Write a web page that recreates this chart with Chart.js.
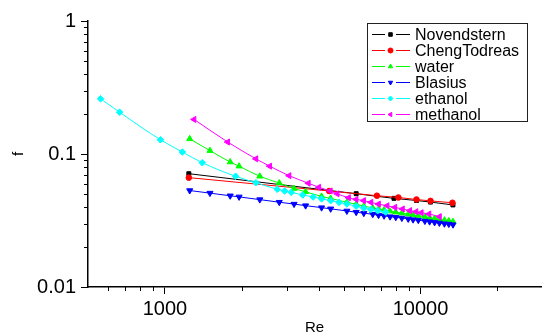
<!DOCTYPE html>
<html>
<head>
<meta charset="utf-8">
<script src="https://cdn.jsdelivr.net/npm/chart.js@4.4.1/dist/chart.umd.min.js"></script>
<style>
  html, body { margin: 0; padding: 0; background: #fff; }
  #wrap { width: 546px; height: 333px; }
</style>
</head>
<body>
<div id="wrap"><canvas id="chart" width="546" height="333"></canvas></div>
<script>
// series names (legend order)
const seriesNames = ['Novendstern', 'ChengTodreas', 'water', 'Blasius', 'ethanol', 'methanol'];

// Novendstern
const reNovendstern = [1240, 5600, 7870, 9640, 10940, 13390];
const fNovendstern = [0.0711, 0.0503, 0.0464, 0.0447, 0.0435, 0.0414];

// ChengTodreas
const reCheng = [1240, 4390, 6750, 8190, 9640, 10940, 13330];
const fCheng = [0.0664, 0.0527, 0.0486, 0.0471, 0.0455, 0.0444, 0.0430];

// water + Blasius share the same Re points
const reWater = [1250, 1500, 1800, 1950, 2350, 2800, 3200, 3550, 4100, 4450, 5150, 5600, 6000, 6500,
                 6850, 7200, 7600, 8000, 8450, 8950, 9350, 9800, 10400, 10850, 11350, 11850, 12400, 12900, 13400];
const fWater = [0.130, 0.106, 0.087, 0.081, 0.068, 0.0605, 0.055, 0.052, 0.048, 0.0463, 0.0434, 0.0419, 0.0405, 0.0393,
                0.0386, 0.0379, 0.0372, 0.0365, 0.0359, 0.0353, 0.0348, 0.0344, 0.0337, 0.0332, 0.0327, 0.0322, 0.0318, 0.0314, 0.0310];
const fBlasius = [0.0531, 0.0508, 0.0485, 0.0476, 0.0454, 0.0434, 0.0420, 0.0409, 0.0395, 0.0387, 0.0373, 0.0365, 0.0359, 0.0352,
                  0.0347, 0.0343, 0.0338, 0.0334, 0.0330, 0.0325, 0.0321, 0.0318, 0.0313, 0.0310, 0.0306, 0.0303, 0.0299, 0.0297, 0.0294];

// ethanol
const reEthanol = [560, 665, 960, 1170, 1400, 1890, 2270, 2750, 2940, 3120, 3460, 3800, 4100, 4450, 4800, 5150, 5600, 6000, 6400, 6800, 7300];
const fEthanol = [0.26, 0.206, 0.128, 0.1035, 0.086, 0.068, 0.0608, 0.0543, 0.0527, 0.0515, 0.0492, 0.0475, 0.046, 0.0446,
                  0.0433, 0.0421, 0.0405, 0.0392, 0.0383, 0.0375, 0.0366];

// methanol
const reMethanol = [1300, 1760, 2270, 2570, 3060, 3640, 4000, 4440, 4720, 5230, 5600, 5990, 6400, 6850, 7400, 7940, 8500, 9080, 9600, 10070, 10790, 11860];
const fMethanol = [0.182, 0.123, 0.092, 0.081, 0.0687, 0.0603, 0.0562, 0.0527, 0.0502, 0.0469, 0.0456, 0.0446, 0.0433, 0.0420,
                   0.0408, 0.0397, 0.0386, 0.0375, 0.0368, 0.0362, 0.0354, 0.0338];

// axis ticks
const xMajorTicks = [1000, 10000];
const xMinorTicks = [600, 700, 800, 900, 2000, 3000, 4000, 5000, 6000, 7000, 8000, 9000, 20000];
const yMajorTicks = [0.01, 0.1, 1];
const yMinorTicks = [0.02, 0.03, 0.04, 0.05, 0.06, 0.07, 0.08, 0.09, 0.2, 0.3, 0.4, 0.5, 0.6, 0.7, 0.8, 0.9];

const FONT = '"Liberation Sans", Arial, sans-serif';

function toPoints(xs, ys) {
    return xs.map((x, i) => ({ x: x, y: ys[i] }));
}

function makeSeries(name, xs, ys, color, style, rotation, radius) {
    return {
        label: name,
        data: toPoints(xs, ys),
        showLine: true,
        borderColor: color,
        backgroundColor: color,
        borderWidth: 1,
        pointStyle: style,
        rotation: rotation,
        pointRadius: radius,
        pointBorderWidth: 1,
        pointBorderColor: color,
        pointBackgroundColor: color,
        cubicInterpolationMode: 'monotone'
    };
}

const datasets = [
    makeSeries(seriesNames[0], reNovendstern, fNovendstern, '#000000', 'rect', 0, 2.8),
    makeSeries(seriesNames[1], reCheng, fCheng, '#ff0000', 'circle', 0, 2.8),
    makeSeries(seriesNames[2], reWater, fWater, '#00ff00', 'triangle', 0, 3.5),
    makeSeries(seriesNames[3], reWater, fBlasius, '#0000ff', 'triangle', 180, 3.5),
    makeSeries(seriesNames[4], reEthanol, fEthanol, '#00ffff', 'rectRot', 0, 3.3),
    makeSeries(seriesNames[5], reMethanol, fMethanol, '#ff00ff', 'triangle', 270, 3.5)
];
// later series drawn on top
datasets.forEach((d, i) => { d.order = datasets.length - 1 - i; });

// short outward minor ticks
const minorTickPlugin = {
    id: 'minorTicks',
    afterDraw(chart) {
        const ctx = chart.ctx;
        const xs = chart.scales.x, ys = chart.scales.y;
        const area = chart.chartArea;
        ctx.save();
        ctx.strokeStyle = '#000';
        ctx.lineWidth = 1;
        ctx.beginPath();
        xMinorTicks.forEach(v => {
            const px = Math.round(xs.getPixelForValue(v)) + 0.5;
            if (px < area.left || px > area.right) return;
            ctx.moveTo(px, area.bottom);
            ctx.lineTo(px, area.bottom + 4);
        });
        yMinorTicks.forEach(v => {
            const py = Math.round(ys.getPixelForValue(v)) + 0.5;
            ctx.moveTo(area.left - 4, py);
            ctx.lineTo(area.left, py);
        });
        ctx.stroke();
        ctx.restore();
    }
};

// boxed legend inside the plot, line - marker - line samples
const boxLegendPlugin = {
    id: 'boxLegend',
    afterDraw(chart) {
        const ctx = chart.ctx;
        const left = 367, top = 23, right = 527, bottom = 121;
        const rowH = 16;
        ctx.save();
        ctx.fillStyle = '#fff';
        ctx.fillRect(left, top, right - left, bottom - top);
        ctx.strokeStyle = '#222';
        ctx.lineWidth = 1;
        ctx.strokeRect(left + 0.5, top + 0.5, right - left, bottom - top);
        ctx.font = '16px ' + FONT;
        ctx.textBaseline = 'middle';
        ctx.textAlign = 'left';
        chart.data.datasets.forEach((ds, i) => {
            const cy = Math.round(top + 10.5 + i * rowH) + 0.5;
            ctx.strokeStyle = ds.borderColor;
            ctx.lineWidth = 1;
            ctx.beginPath();
            ctx.moveTo(372, cy);
            ctx.lineTo(385, cy);
            ctx.moveTo(396, cy);
            ctx.lineTo(410, cy);
            ctx.stroke();
            const opts = {
                pointStyle: ds.pointStyle,
                rotation: ds.rotation,
                radius: 2.5,
                borderWidth: 1
            };
            ctx.fillStyle = ds.backgroundColor;
            ctx.strokeStyle = ds.borderColor;
            if (Chart.helpers && Chart.helpers.drawPoint) {
                Chart.helpers.drawPoint(ctx, opts, 390.5, cy);
            } else {
                ctx.fillRect(388, cy - 2, 4, 4);
            }
            ctx.fillStyle = '#000';
            ctx.fillText(ds.label, 415, cy + 1);
        });
        ctx.restore();
    }
};

const ctx = document.getElementById('chart').getContext('2d');
const chart = new Chart(ctx, {
    type: 'scatter',
    data: { datasets: datasets },
    options: {
        responsive: false,
        animation: false,
        events: [],
        layout: { padding: { top: 21, right: 0, left: 0, bottom: 0 } },
        plugins: {
            legend: { display: false },
            tooltip: { enabled: false }
        },
        scales: {
            x: {
                type: 'logarithmic',
                min: 500,
                max: 29600,
                afterBuildTicks(scale) {
                    scale.ticks = xMajorTicks.map(v => ({ value: v }));
                },
                afterFit(scale) { scale.height = 46; },
                ticks: {
                    autoSkip: false,
                    maxRotation: 0,
                    padding: 3,
                    color: '#000',
                    font: { family: FONT, size: 20 },
                    callback: v => String(v)
                },
                grid: {
                    drawOnChartArea: false,
                    drawTicks: true,
                    tickLength: 7,
                    tickColor: '#000',
                    tickWidth: 1
                },
                border: { display: true, color: '#000', width: 1.5 },
                title: {
                    display: true,
                    text: 'Re',
                    color: '#000',
                    font: { family: FONT, size: 15 },
                    padding: { top: 0, bottom: -4 }
                }
            },
            y: {
                type: 'logarithmic',
                min: 0.01,
                max: 1,
                afterBuildTicks(scale) {
                    scale.ticks = yMajorTicks.map(v => ({ value: v }));
                },
                afterFit(scale) { scale.width = 88; },
                ticks: {
                    autoSkip: false,
                    padding: 5,
                    color: '#000',
                    font: { family: FONT, size: 20 },
                    callback: v => String(v)
                },
                grid: {
                    drawOnChartArea: false,
                    drawTicks: true,
                    tickLength: 7,
                    tickColor: '#000',
                    tickWidth: 1
                },
                border: { display: true, color: '#000', width: 1.5 },
                title: {
                    display: true,
                    text: 'f',
                    color: '#000',
                    font: { family: FONT, size: 15 },
                    padding: { top: 10, bottom: 0 }
                }
            }
        }
    },
    plugins: [minorTickPlugin, boxLegendPlugin]
});
</script>
</body>
</html>
